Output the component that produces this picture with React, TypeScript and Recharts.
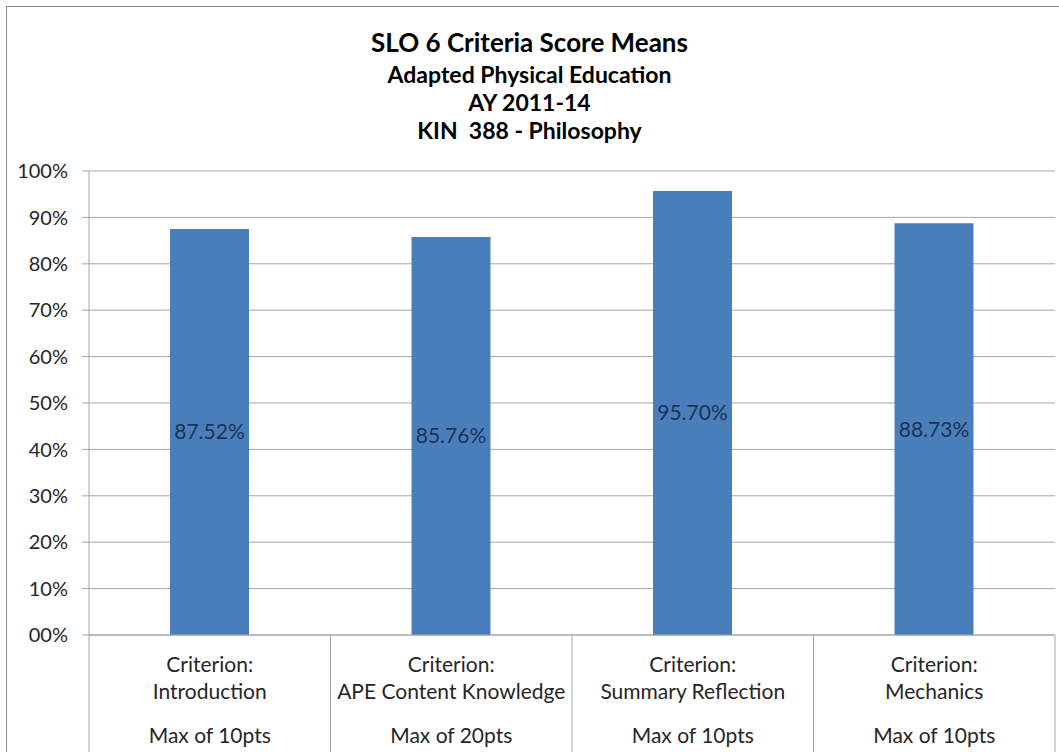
import { Bar, BarChart, CartesianGrid, LabelList, XAxis, YAxis } from 'recharts'

const criteria = ['Introduction', 'APE Content Knowledge', 'Summary Reflection', 'Mechanics']
const maxPoints = ['Max of 10pts', 'Max of 20pts', 'Max of 10pts', 'Max of 10pts']
const means = [87.52, 85.76, 95.7, 88.73]
const yTicks = [0, 10, 20, 30, 40, 50, 60, 70, 80, 90, 100]
const titleLines = ['SLO 6 Criteria Score Means', 'Adapted Physical Education', 'AY 2011-14', 'KIN  388 - Philosophy']

const data = criteria.map((c, i) => ({ name: c, max: maxPoints[i], mean: means[i] }))

const FONT = 'Lato, "Open Sans", sans-serif'
const WIDTH = 1059
const HEIGHT = 752
const PLOT_LEFT = 89
const PLOT_RIGHT = 1055
const BAND = (PLOT_RIGHT - PLOT_LEFT) / criteria.length
const GRID = '#A6A6A6'

function CategoryTick(props: any) {
  const { x, y, payload } = props
  const i = payload.index
  const left = x - BAND / 2
  const right = x + BAND / 2
  return (
    <g>
      <line x1={left} y1={y} x2={left} y2={y + 120} stroke={GRID} />
      {i === criteria.length - 1 && <line x1={right} y1={y} x2={right} y2={y + 120} stroke={GRID} />}
      <text x={x} y={y + 37} textAnchor="middle" fontSize={21} fill="#262626" fontFamily={FONT}>
        Criterion:
      </text>
      <text x={x} y={y + 64} textAnchor="middle" fontSize={21} fill="#262626" fontFamily={FONT}>
        {criteria[i]}
      </text>
      <text x={x} y={y + 108} textAnchor="middle" fontSize={21} fill="#262626" fontFamily={FONT}>
        {maxPoints[i]}
      </text>
    </g>
  )
}

export default function App() {
  const centers = [42, 74, 102, 130]
  return (
    <div style={{ position: 'absolute', left: 0, top: 0, width: WIDTH, height: HEIGHT, overflow: 'hidden', background: '#fff' }}>
      <div
        style={{
          position: 'absolute',
          left: 6,
          top: 6,
          width: WIDTH,
          height: HEIGHT,
          border: '1px solid #8C8C8C',
        }}
      />
      {titleLines.map((t, i) => (
        <div
          key={t}
          style={{
            position: 'absolute',
            left: 0,
            width: WIDTH,
            top: centers[i] - 15,
            height: 30,
            lineHeight: '30px',
            textAlign: 'center',
            fontFamily: FONT,
            fontWeight: 'bold',
            fontSize: i === 0 ? 26 : 23,
            color: '#000',
            whiteSpace: 'pre',
          }}
        >
          {t}
        </div>
      ))}
      <div style={{ position: 'absolute', left: 0, top: 0 }}>
        <BarChart
          width={WIDTH}
          height={HEIGHT}
          data={data}
          margin={{ top: 171, right: WIDTH - PLOT_RIGHT, bottom: 0, left: 0 }}
          barSize={79}
        >
          <CartesianGrid vertical={false} stroke={GRID} />
          <XAxis
            dataKey="name"
            height={HEIGHT - 635}
            tickLine={false}
            tickSize={0}
            tickMargin={0}
            axisLine={{ stroke: GRID }}
            interval={0}
            tick={<CategoryTick />}
          />
          <YAxis
            width={PLOT_LEFT}
            domain={[0, 100]}
            ticks={yTicks}
            interval={0}
            tickSize={7}
            tickMargin={14}
            tickLine={{ stroke: GRID }}
            axisLine={{ stroke: GRID }}
            tickFormatter={(v: number) => (v === 0 ? '00%' : `${v}%`)}
            tick={{ fontSize: 20, fill: '#262626', fontFamily: FONT }}
          />
          <Bar dataKey="mean" fill="#4A7EBB" isAnimationActive={false}>
            <LabelList
              dataKey="mean"
              position="center"
              formatter={(v: any) => `${Number(v).toFixed(2)}%`}
              style={{ fontSize: 21, fill: '#1B3358', fontFamily: FONT }}
            />
          </Bar>
        </BarChart>
      </div>
    </div>
  )
}
